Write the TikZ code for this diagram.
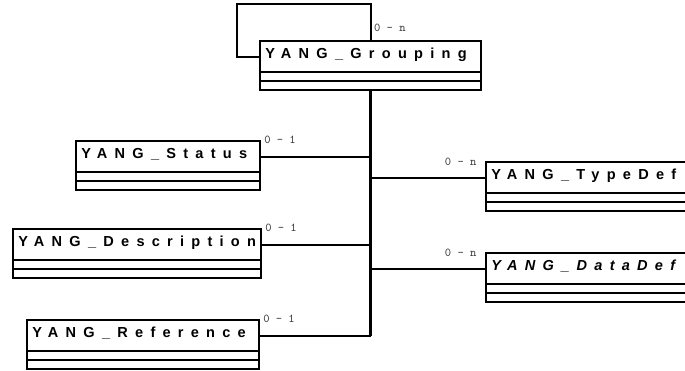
\documentclass[tikz,border=0pt]{standalone}
\usepackage{fontspec}
\newfontfamily\classfont[LetterSpace=50]{Liberation Sans}

\begin{document}
\begin{tikzpicture}[x=0.75pt,y=-0.75pt,
  classbox/.style={draw, line width=1.5pt, anchor=north west, outer sep=0pt,
    minimum height=23.25pt, inner xsep=4pt, inner ysep=0pt, align=left,
    text height=7.8pt, text depth=5pt,
    font=\classfont\bfseries\fontsize{10.9}{12}\selectfont},
  compart/.style={draw, line width=1.5pt},
  link/.style={line width=1.5pt},
  trunk/.style={line width=2.1pt},
  mult/.style={inner sep=0pt, font=\ttfamily\fontsize{9}{9}\selectfont, text=black!75}]
\clip (0,0) rectangle (685,371);
\node[classbox, text width=157.75pt] (grouping) at (260,41) {YANG\_Grouping};
\node[classbox, text width=130pt] (status) at (76,141) {YANG\_Status};
\node[classbox, text width=178pt] (description) at (13,229) {YANG\_Description};
\node[classbox, text width=166pt] (reference) at (27,320) {YANG\_Reference};
\node[classbox, text width=157pt] (typedef) at (486,162) {YANG\_TypeDef};
\node[classbox, text width=157pt] (datadef) at (486,253) {\itshape YANG\_DataDef};
\foreach \c in {grouping,status,description,reference,typedef,datadef}{
  \draw[compart] (\c.south west) rectangle ([yshift=-13.5pt]\c.south east);
  \draw[compart] ([yshift=-6.75pt]\c.south west) -- ([yshift=-6.75pt]\c.south east);
}
\draw[trunk] ([yshift=-13.5pt]grouping.south) -- (grouping.south |- reference.east);
\draw[link] (status.east) -- (status.east -| grouping.south);
\draw[link] (description.east) -- (description.east -| grouping.south);
\draw[link] (reference.east) -- (reference.east -| grouping.south);
\draw[link] (typedef.west) -- (typedef.west -| grouping.south);
\draw[link] (datadef.west) -- (datadef.west -| grouping.south);
\draw[link] (grouping.north) -- ++(0,-37) -| ([xshift=-17.25pt]grouping.west) -- (grouping.west);
\node[mult, anchor=west] (mgrouping) at ([xshift=2.5pt,yshift=9.75pt]grouping.north) {0 - n};
\node[mult, anchor=west] (mstatus) at ([xshift=3pt,yshift=1pt]status.north east) {0 - 1};
\node[mult, anchor=west] (mdescription) at ([xshift=3pt,yshift=1pt]description.north east) {0 - 1};
\node[mult, anchor=west] (mreference) at ([xshift=3pt,yshift=1pt]reference.north east) {0 - 1};
\node[mult, anchor=east] (mtypedef) at ([xshift=-7pt,yshift=0.5pt]typedef.north west) {0 - n};
\node[mult, anchor=east] (mdatadef) at ([xshift=-7pt,yshift=0.5pt]datadef.north west) {0 - n};
\end{tikzpicture}
\end{document}
